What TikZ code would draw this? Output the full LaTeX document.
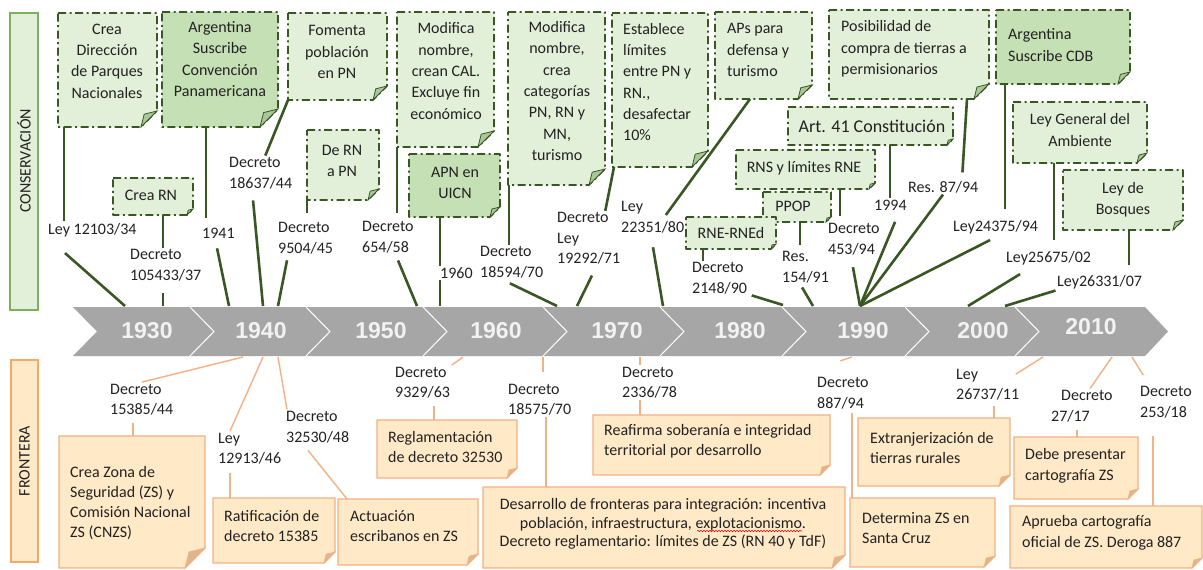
\documentclass[tikz,border=0pt]{standalone}
\usepackage{fontspec}
\setmainfont{Carlito}
\newfontfamily\yearfont{Liberation Sans}
\usetikzlibrary{calc,decorations.pathmorphing}
\definecolor{gline}{HTML}{385723}
\definecolor{gfillA}{HTML}{E2F0D9}
\definecolor{gfillB}{HTML}{C5E0B4}
\definecolor{gfold}{HTML}{A9C79A}
\definecolor{oline}{HTML}{F4B183}
\definecolor{ofill}{HTML}{FFE9C7}
\definecolor{ofold}{HTML}{DDB68E}
\definecolor{tlgray}{HTML}{A6A6A6}
\definecolor{yeartext}{HTML}{F2F2F2}
\definecolor{txt}{HTML}{222222}
\definecolor{sidegreen}{HTML}{7FAF62}
\definecolor{sideorange}{HTML}{F4A96A}
\tikzset{
  boxframe/.style={inner sep=0pt, outer sep=0pt, draw=none},
  gborder/.style={draw=gline, line width=1.6pt, dash pattern=on 8pt off 3.5pt on 2pt off 3.5pt, line join=round},
  gnoteA/.style={gborder, fill=gfillA},
  gnoteB/.style={gborder, fill=gfillB},
  gfoldst/.style={fill=gfold, draw=gline, line width=0.8pt},
  onote/.style={draw=oline, line width=1.2pt, fill=ofill},
  ofoldst/.style={fill=ofold, draw=oline, line width=0.8pt},
  gconn/.style={draw=gline, line width=2.6pt},
  oconn/.style={draw=oline, line width=1.4pt},
  gtext/.style={font=\fontsize{16}{21.3}\selectfont, text=txt, inner sep=0pt},
  otext/.style={font=\fontsize{16}{20.5}\selectfont, text=txt, inner sep=0pt, align=left, anchor=west},
  lab/.style={font=\fontsize{16}{20.5}\selectfont, text=txt, inner sep=1.5pt, align=left, anchor=west},
  yearlab/.style={font=\yearfont\bfseries\fontsize{23}{23}\selectfont, text=yeartext, inner sep=0pt},
  sidetext/.style={rotate=90, font=\fontsize{16}{16}\selectfont, text=txt, inner sep=0pt},
  sidebox/.style={inner sep=0pt, outer sep=0pt, line width=1.2pt},
  sepline/.style={draw=white, line width=1pt},
}
\newcommand\notebox[8]{%
  \pgfmathsetmacro\nbw{#6-#4}\pgfmathsetmacro\nbh{#7-#5}%
  \pgfmathsetmacro\nbx{(#4+#6)/2}\pgfmathsetmacro\nby{(#5+#7)/2}%
  \node[boxframe, minimum width=\nbw pt, minimum height=\nbh pt] (#3) at (\nbx,\nby) {};
  \path[#1] (#3.north west) -- (#3.north east) -- ($(#3.south east)+(0,-#8)$)
     -- ($(#3.south east)+(-#8,0)$) -- (#3.south west) -- cycle;
  \path[#2] ($(#3.south east)+(0,-#8)$) -- ($(#3.south east)+(-0.8*#8,-0.8*#8)$)
     -- ($(#3.south east)+(-#8,0)$) -- cycle;
}
\begin{document}
\begin{tikzpicture}[x=1pt,y=-1pt]
\useasboundingbox (0,0) rectangle (1203,570);
\fill[white] (0,0) rectangle (1203,570);

% side labels
\node[sidebox, draw=sidegreen, fill=gfillA, minimum width=28pt, minimum height=297pt] (sidecons) at (24,161.5) {};
\node[sidetext] (sideconst) at (24,161) {CONSERVACIÓN};
\node[sidebox, draw=sideorange, fill=ofill, minimum width=27pt, minimum height=202pt] (sidefront) at (24.5,461) {};
\node[sidetext] (sidefrontt) at (24.5,461) {FRONTERA};

% timeline
\fill[tlgray] (73,307) -- (1145,307) -- (1168,331.5) -- (1145,356) -- (73,356) -- (97,331.5) -- cycle;
\foreach \sx in {190,306,423,543,660,782,905,1015}{
  \draw[sepline] (\sx,307) -- (\sx+24,331.5) -- (\sx,356);
}
\node[yearlab] (y1930) at (147,331) {1930};
\node[yearlab] (y1940) at (261,331) {1940};
\node[yearlab] (y1950) at (381,331) {1950};
\node[yearlab] (y1960) at (496,331) {1960};
\node[yearlab] (y1970) at (617,331) {1970};
\node[yearlab] (y1980) at (740,331) {1980};
\node[yearlab] (y1990) at (863,331) {1990};
\node[yearlab] (y2000) at (983,331) {2000};
\node[yearlab] (y2010) at (1091,327) {2010};

% timeline points
\coordinate (tA) at (125,306);
\coordinate (tB) at (229,306);
\coordinate (tC) at (163,306);
\coordinate (tD) at (263,306);
\coordinate (tE) at (278,306);
\coordinate (tF) at (417,306);
\coordinate (tG) at (440,306);
\coordinate (tH) at (557,306);
\coordinate (tI) at (577,306);
\coordinate (tJ) at (663,306);
\coordinate (tK) at (783,305);
\coordinate (tL) at (813,306);
\coordinate (hub) at (860,306);
\coordinate (tM) at (968,306);
\coordinate (tN) at (1005,306);
\coordinate (oT1) at (243,357);
\coordinate (oT2) at (263,357);
\coordinate (oT3) at (278,357);
\coordinate (oT4) at (463,357);
\coordinate (oT5) at (543,357);
\coordinate (oT6) at (640,357);
\coordinate (oT7) at (852,357);
\coordinate (oT8) at (1043,357);
\coordinate (oT9) at (1112,357);
\coordinate (oT10) at (1132,357);

% green boxes
\notebox{gnoteA}{gfoldst}{g1}{58}{13}{157}{127}{16}
\notebox{gnoteB}{gfoldst}{g2}{162}{12}{278}{127}{18}
\notebox{gnoteA}{gfoldst}{g3}{113}{178}{193}{215}{6}
\notebox{gnoteA}{gfoldst}{g4}{288}{13}{387}{100}{14}
\notebox{gnoteA}{gfoldst}{g5}{307}{130}{379}{200}{11}
\notebox{gnoteA}{gfoldst}{g6}{397}{12}{494}{147}{16}
\notebox{gnoteB}{gfoldst}{g7}{409}{154}{500}{217}{10}
\notebox{gnoteA}{gfoldst}{g8}{508}{12}{605}{185}{16}
\notebox{gnoteA}{gfoldst}{g9}{612}{13}{708}{167}{16}
\notebox{gnoteA}{gfoldst}{g10}{715}{12}{812}{99}{14}
\notebox{gnoteA}{gfoldst}{g12}{763}{192}{831}{222}{5}
\notebox{gnoteA}{gfoldst}{g11}{686}{217}{776}{249}{5}
\notebox{gnoteA}{gfoldst}{g13}{736}{150}{875}{189}{6}
\notebox{gnoteA}{gfoldst}{g14}{788}{107}{953}{145}{6}
\notebox{gnoteA}{gfoldst}{g15}{829}{10}{989}{99}{15}
\notebox{gnoteB}{gfoldst}{g16}{996}{10}{1130}{84}{12}
\notebox{gnoteA}{gfoldst}{g17}{1013}{102}{1147}{163}{10}
\notebox{gnoteA}{gfoldst}{g18}{1063}{170}{1183}{230}{10}

\node[gtext, align=center] (g1t) at (107,61) {Crea\\Dirección\\de Parques\\Nacionales};
\node[gtext, align=center] (g2t) at (220,59) {Argentina\\Suscribe\\Convención\\Panamericana};
\node[gtext] (g3t) at (151,195) {Crea RN};
\node[gtext, align=center] (g4t) at (337,52) {Fomenta\\población\\en PN};
\node[gtext, align=center] (g5t) at (342,161) {De RN\\a PN};
\node[gtext, align=center] (g6t) at (446,71) {Modifica\\nombre,\\crean CAL.\\Excluye fin\\económico};
\node[gtext, align=center] (g7t) at (455,183) {APN en\\UICN};
\node[gtext, align=center] (g8t) at (557,91) {Modifica\\nombre,\\crea\\categorías\\PN, RN y\\MN,\\turismo};
\node[gtext, align=left, anchor=west] (g9t) at (623,82) {Establece\\límites\\entre PN y\\RN.,\\desafectar\\10\%};
\node[gtext, align=left, anchor=west] (g10t) at (727,50) {APs para\\defensa y\\turismo};
\node[gtext] (g11t) at (731,233) {RNE-RNEd};
\node[gtext] (g12t) at (793,206) {PPOP};
\node[gtext] (g13t) at (804,168) {RNS y límites RNE};
\node[gtext, font=\fontsize{18}{21}\selectfont] (g14t) at (872,126) {Art. 41 Constitución};
\node[gtext, align=left, anchor=west] (g15t) at (841,49) {Posibilidad de\\compra de tierras a\\permisionarios};
\node[gtext, align=left, anchor=west] (g16t) at (1008,45) {Argentina\\Suscribe CDB};
\node[gtext, align=center] (g17t) at (1080,130) {Ley General del\\Ambiente};
\node[gtext, align=center] (g18t) at (1123,200) {Ley de\\Bosques};

% green labels
\node[lab] (l1) at (46.5,230) {Ley 12103/34};
\node[lab] (l2) at (200.5,233) {1941};
\node[lab] (l3) at (128.5,265) {Decreto\\105433/37};
\node[lab] (l4) at (227.5,173) {Decreto\\18637/44};
\node[lab] (l5) at (276.5,238) {Decreto\\9504/45};
\node[lab] (l6) at (360.5,237) {Decreto\\654/58};
\node[lab] (l7) at (438.5,273) {1960};
\node[lab] (l8) at (478.5,262) {Decreto\\18594/70};
\node[lab] (l9) at (555.5,238.5) {Decreto\\Ley\\19292/71};
\node[lab] (l10) at (619.5,217) {Ley\\22351/80};
\node[lab] (l11) at (690.5,278) {Decreto\\2148/90};
\node[lab] (l12) at (780.5,267) {Res.\\154/91};
\node[lab] (l13) at (826.5,239) {Decreto\\453/94};
\node[lab] (l14) at (872.5,205) {1994};
\node[lab] (l15) at (906.5,187) {Res. 87/94};
\node[lab] (l16) at (951.5,227) {Ley24375/94};
\node[lab] (l17) at (1004.5,258) {Ley25675/02};
\node[lab] (l18) at (1055.5,282) {Ley26331/07};

% green connectors
\draw[gconn] (g1.south -| 64,0) -- (l1.north -| 64,0);
\draw[gconn, shorten <=22pt] (l1.south -| 48.5,0) -- (tA);
\draw[gconn, shorten >=8pt] (g2.south -| 206,0) -- (l2.north -| 206,0);
\draw[gconn, shorten <=8.6pt] (l2.south -| 215.3,0) -- (tB);
\draw[gconn] (g3.south -| 163,0) -- (l3.north -| 163,0);
\draw[gconn, shorten <=11pt] (l3.south -| 163,0) -- (tC);
\draw[gconn] (g4.south west) -- (l4.north -| 265.3,0);
\draw[gconn, shorten <=10pt] (l4.south -| 252.1,0) -- (tD);
\draw[gconn, shorten >=8pt] (g5.south west) -- (l5.north -| 307,0);
\draw[gconn, shorten <=5pt] (l5.south -| 288,0) -- (tE);
\draw[gconn, shorten >=7pt] (g6.south west) -- (l6.north -| 397,0);
\draw[gconn, shorten <=6.5pt] (l6.south -| 395.5,0) -- (tF);
\draw[gconn] (g7.south -| 440,0) -- (l7.north -| 440,0);
\draw[gconn] (l7.south -| 440,0) -- (tG);
\draw[gconn] (g8.south -| 509,0) -- (l8.north -| 509,0);
\draw[gconn, shorten <=9pt] (l8.south -| 501.8,0) -- (tH);
\draw[gconn] (g9.south -| 614,0) -- (l9.north -| 605.3,0);
\draw[gconn, shorten <=10.5pt] (l9.south -| 596.6,0) -- (tI);
\draw[gconn] (g10.south -| 750,0) -- ($(l10.east)+(-20,-2)$);
\draw[gconn, shorten <=13pt] (l10.south -| 650.8,0) -- (tJ);
\draw[gconn] (g11.south -| 703,0) -- (l11.north -| 703,0);
\draw[gconn] ($(l11.south east)+(3,0)$) -- (tK);
\draw[gconn, shorten >=5pt] (g12.south -| 800,0) -- (l12.north -| 800,0);
\draw[gconn, shorten <=3.5pt] (l12.south -| 800.3,0) -- (tL);
\draw[gconn, shorten >=6pt] (g13.south -| 840,0) -- (l13.north -| 840,0);
\draw[gconn, shorten <=11pt] (l13.south -| 851,0) -- (hub);
\draw[gconn] (g14.south -| 890,0) -- (l14.north -| 890,0);
\draw[gconn, shorten <=10.8pt] (l14.south -| 899.2,0) -- (hub);
\draw[gconn, shorten >=7pt] (g15.south -| 967,0) -- (l15.north -| 962,0);
\draw[gconn] (l15.south -| 943,0) -- (hub);
\draw[gconn, shorten >=9pt] (g16.south -| 1005,0) -- (l16.north -| 1005,0);
\draw[gconn, shorten <=10pt] (l16.south -| 999,0) -- (hub);
\draw[gconn, shorten >=9pt] (g17.south -| 1054,0) -- (l17.north -| 1054,0);
\draw[gconn, shorten <=14.5pt] (l17.south -| 1032.4,0) -- (tM);
\draw[gconn, shorten >=8pt] (g18.south -| 1129,0) -- (l18.north -| 1129,0);
\draw[gconn] (l18.south west) -- (tN);

% orange boxes
\notebox{onote}{ofoldst}{o1}{59}{436}{205}{568}{20}
\notebox{onote}{ofoldst}{o2}{213}{498}{335}{563}{11}
\notebox{onote}{ofoldst}{o3}{338}{499}{478}{565}{11}
\notebox{onote}{ofoldst}{o4}{377}{420}{517}{478}{10}
\notebox{onote}{ofoldst}{o5}{483}{487}{845}{568}{13}
\notebox{onote}{ofoldst}{o6}{593}{415}{830}{475}{10}
\notebox{onote}{ofoldst}{o7}{850}{498}{995}{567}{11}
\notebox{onote}{ofoldst}{o8}{858}{418}{1010}{486}{11}
\notebox{onote}{ofoldst}{o9}{1014}{437}{1138}{499}{10}
\notebox{onote}{ofoldst}{o10}{1010}{506}{1202}{568}{10}

\node[otext, font=\fontsize{16}{19.7}\selectfont] (o1t) at (70,503) {Crea Zona de\\Seguridad (ZS) y\\Comisión Nacional\\ZS (CNZS)};
\node[otext] (o2t) at (224,526) {Ratificación de\\decreto 15385};
\node[otext] (o3t) at (350,526) {Actuación\\escribanos en ZS};
\node[otext] (o4t) at (388,447) {Reglamentación\\de decreto 32530};
\node[otext, anchor=center, align=center, font=\fontsize{16}{18.5}\selectfont] (o5t) at (663,524) {Desarrollo de fronteras para integración: incentiva\\población, infraestructura, explotacionismo.\\Decreto reglamentario: límites de ZS (RN 40 y TdF)};
\node[otext] (o6t) at (604,441) {Reafirma soberanía e integridad\\territorial por desarrollo};
\node[otext] (o7t) at (862,528) {Determina ZS en\\Santa Cruz};
\node[otext] (o8t) at (870,448) {Extranjerización de\\tierras rurales};
\node[otext] (o9t) at (1025,466) {Debe presentar\\cartografía ZS};
\node[otext] (o10t) at (1022,533) {Aprueba cartografía\\oficial de ZS. Deroga 887};
\draw[red, line width=0.6pt, decorate, decoration={snake, amplitude=0.7pt, segment length=3pt}] (697,531) -- (802,531);

% orange labels
\node[lab] (ol1) at (108.5,399.5) {Decreto\\15385/44};
\node[lab] (ol2) at (216.5,448.5) {Ley\\12913/46};
\node[lab] (ol3) at (284.5,427) {Decreto\\32530/48};
\node[lab] (ol4) at (393.5,382.5) {Decreto\\9329/63};
\node[lab] (ol5) at (506.5,399.5) {Decreto\\18575/70};
\node[lab] (ol6) at (620.5,382.5) {Decreto\\2336/78};
\node[lab] (ol7) at (815.5,393) {Decreto\\887/94};
\node[lab] (ol8) at (954.5,384.5) {Ley\\26737/11};
\node[lab] (ol9) at (1049.5,406) {\hspace*{10pt}Decreto\\27/17};
\node[lab] (ol10) at (1138.5,402) {Decreto\\253/18};

% orange connectors
\draw[oconn] (oT1) -- (ol1.north -| 142,0);
\draw[oconn, shorten <=6pt] (ol1.south -| 133,0) -- (o1.north -| 133,0);
\draw[oconn] (oT2) -- (ol2.north -| 230,0);
\draw[oconn, shorten <=7pt] (ol2.south -| 230,0) -- (o2.north -| 230,0);
\draw[oconn] (oT3) -- (ol3.north -| 287,0);
\draw[oconn, shorten <=7.7pt] (ol3.south -| 303.2,0) -- (o3.north -| 347,0);
\draw[oconn] (oT4) -- (ol4.north east);
\draw[oconn, shorten <=6pt] (ol4.south -| 434,0) -- (o4.north -| 434,0);
\draw[oconn, shorten >=10pt] (oT5) -- (ol5.north -| 543,0);
\draw[oconn] (ol5.south -| 546,0) -- (o5.north -| 546,0);
\draw[oconn] (oT6) -- (ol6.north -| 640,0);
\draw[oconn] (ol6.south -| 640,0) -- (o6.north -| 640,0);
\draw[oconn, shorten >=47.4pt] (oT7) -- (ol7.north -| 795,0);
\draw[oconn, shorten <=3pt] (ol7.south -| 852,0) -- (o7.north -| 852,0);
\draw[oconn] (oT8) -- ($(ol8.north east)+(-5,7)$);
\draw[oconn, shorten <=4pt] (ol8.south -| 994,0) -- (o8.north -| 994,0);
\draw[oconn] (oT9) -- (ol9.north -| 1090,0);
\draw[oconn, shorten <=7pt] (ol9.south -| 1077,0) -- (o9.north -| 1077,0);
\draw[oconn, shorten >=11pt] (oT10) -- (ol10.north -| 1149,0);
\draw[oconn, shorten <=17pt] (ol10.south -| 1153,0) -- (o10.north -| 1153,0);
\end{tikzpicture}
\end{document}
